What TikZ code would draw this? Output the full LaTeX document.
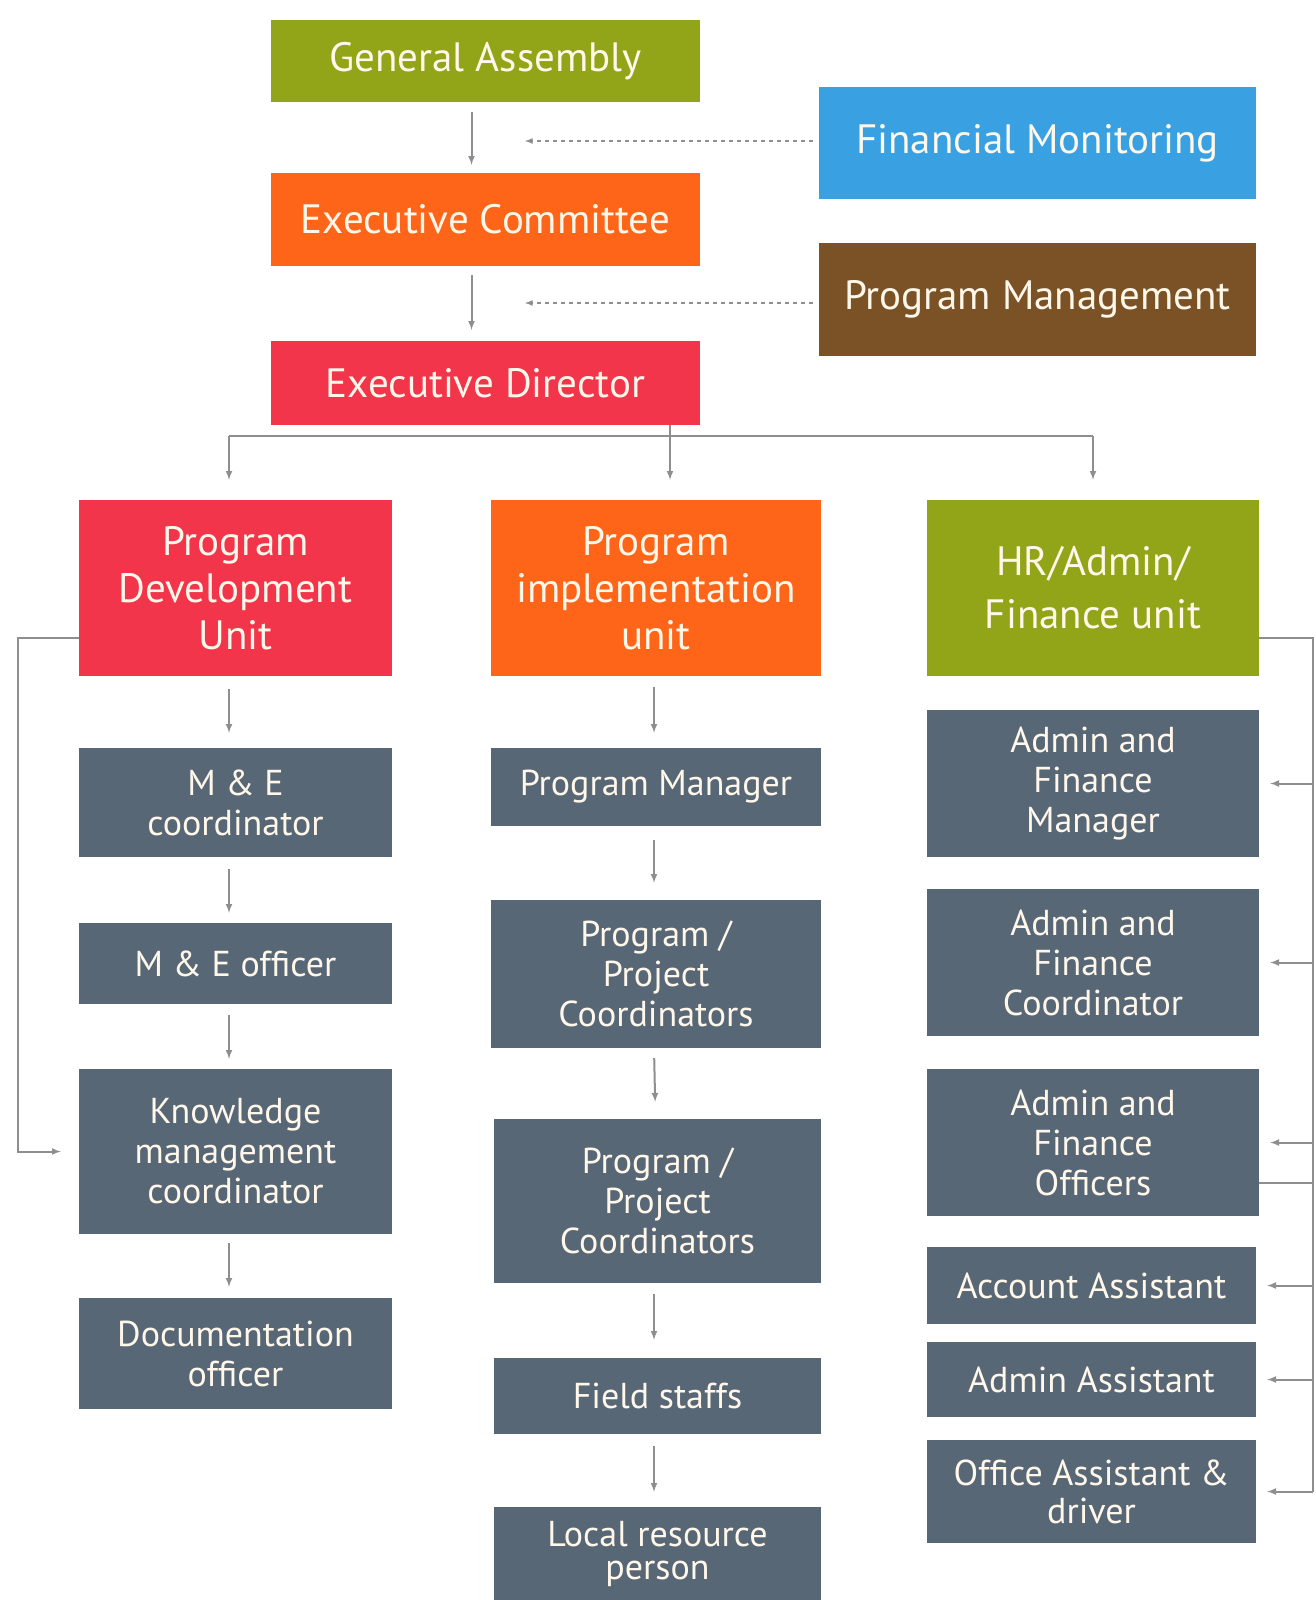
\documentclass[tikz,border=0pt]{standalone}
\usepackage{fontspec}
\setmainfont{PT Sans}
\usetikzlibrary{arrows,positioning}
\definecolor{cGreen}{HTML}{92A418}
\definecolor{cOrange}{HTML}{FF6519}
\definecolor{cRed}{HTML}{F2354B}
\definecolor{cBlue}{HTML}{39A1E2}
\definecolor{cBrown}{HTML}{7A5226}
\definecolor{cSlate}{HTML}{576776}
\definecolor{cText}{HTML}{FFF7EA}
\definecolor{cLine}{HTML}{8E8E8E}
\tikzset{
	unit/.style={rectangle, inner sep=0pt, text=cText, align=center,
		font=\fontsize{41}{47}\selectfont},
	staff/.style={unit, fill=cSlate, font=\fontsize{36}{40}\selectfont},
	link/.style={draw=cLine, line width=2pt},
	linkarr/.style={link, arrows={-latex}},
	dotarr/.style={draw=cLine, line width=1.6pt, dash pattern=on 4pt off 4pt, arrows={-latex}},
}

\begin{document}
\begin{tikzpicture}[x=1pt,y=-1pt]
			\useasboundingbox (0,0) rectangle (1315,1600);

			% Haut de l'organigramme
			\node[unit, fill=cGreen, minimum width=429pt, minimum height=82pt] (ga) at (485.5,61) {General Assembly};
			\node[unit, fill=cOrange, minimum width=429pt, minimum height=93pt] (ec) at (485.5,219.5) {Executive Committee};
			\node[unit, fill=cRed, minimum width=429pt, minimum height=84pt] (ed) at (485.5,383) {Executive Director};
			\node[unit, fill=cBlue, minimum width=437pt, minimum height=112pt] (fm) at (1037.5,143) {Financial Monitoring};
			\node[unit, fill=cBrown, minimum width=437pt, minimum height=113pt] (pm) at (1037.5,299.5) {Program Management};

			\draw[linkarr, shorten <=10pt, shorten >=8pt] ([xshift=-14pt]ga.south) -- ([xshift=-14pt]ec.north);
			\draw[linkarr, shorten <=9pt, shorten >=11pt] ([xshift=-14pt]ec.south) -- ([xshift=-14pt]ed.north);

			% Fleches pointillees
			\coordinate (fmtip) at (525,141);
			\coordinate (pmtip) at (525,303);
			\draw[dotarr, shorten <=6pt] (fm.west |- fmtip) -- (fmtip);
			\draw[dotarr, shorten <=6pt] (pm.west |- pmtip) -- (pmtip);

			% Unites
			\node[unit, fill=cRed, minimum width=313pt, minimum height=176pt] (pdu) at (235.5,588) {Program\\Development\\Unit};
			\node[unit, fill=cOrange, minimum width=330pt, minimum height=176pt] (piu) at (656,588) {Program\\implementation\\unit};
			\node[unit, fill=cGreen, minimum width=332pt, minimum height=176pt, font=\fontsize{41}{53}\selectfont] (hr) at (1093,588) {HR/Admin/\\Finance unit};

			% Bus sous le directeur
			\coordinate (bus) at (670,436);
			\draw[link] (bus |- ed.south) -- (bus);
			\draw[link] ([xshift=-6.5pt]bus -| pdu.north) -- (bus -| hr.north);
			\draw[linkarr, shorten >=20pt] ([xshift=-6.5pt]bus -| pdu.north) -- ([xshift=-6.5pt]pdu.north);
			\draw[linkarr, shorten >=20pt] (bus) -- (bus |- piu.north);
			\draw[linkarr, shorten >=20pt] (bus -| hr.north) -- (hr.north);

			% Colonne gauche
			\node[staff, minimum width=313pt, minimum height=109pt] (mec) at (235.5,802.5) {M \& E\\coordinator};
			\node[staff, minimum width=313pt, minimum height=81pt] (meo) at (235.5,963.5) {M \& E officer};
			\node[staff, minimum width=313pt, minimum height=165pt] (kmc) at (235.5,1151.5) {Knowledge\\management\\coordinator};
			\node[staff, minimum width=313pt, minimum height=111pt] (doc) at (235.5,1353.5) {Documentation\\officer};

			\draw[linkarr, shorten <=13pt, shorten >=15pt] ([xshift=-6.5pt]pdu.south) -- ([xshift=-6.5pt]mec.north);
			\draw[linkarr, shorten <=12pt, shorten >=10pt] ([xshift=-6.5pt]mec.south) -- ([xshift=-6.5pt]meo.north);
			\draw[linkarr, shorten <=11pt, shorten >=10pt] ([xshift=-6.5pt]meo.south) -- ([xshift=-6.5pt]kmc.north);
			\draw[linkarr, shorten <=9pt, shorten >=11pt] ([xshift=-6.5pt]kmc.south) -- ([xshift=-6.5pt]doc.north);

			% Retour a gauche
			\coordinate (lbus) at (18,638);
			\draw[linkarr, shorten >=18pt] (pdu.west |- lbus) -- (lbus) |- (kmc.west);

			% Colonne centrale
			\node[staff, minimum width=330pt, minimum height=78pt] (pmg) at (656,787) {Program Manager};
			\node[staff, minimum width=330pt, minimum height=148pt] (ppc) at (656,974) {Program /\\Project\\Coordinators};
			\node[staff, minimum width=327pt, minimum height=164pt] (ppcb) at (657.5,1201) {Program /\\Project\\Coordinators};
			\node[staff, minimum width=327pt, minimum height=76pt] (fst) at (657.5,1396) {Field staffs};
			\node[staff, minimum width=327pt, minimum height=93pt, font=\fontsize{36}{33}\selectfont] (lrp) at (657.5,1553.5) {Local resource\\person};

			\draw[linkarr, shorten <=11pt, shorten >=15pt] ([xshift=-2pt]piu.south) -- ([xshift=-2pt]pmg.north);
			\draw[linkarr, shorten <=14pt, shorten >=17pt] ([xshift=-2pt]pmg.south) -- ([xshift=-2pt]ppc.north);
			\draw[linkarr, shorten <=10pt, shorten >=17pt] ([xshift=-2pt]ppc.south) -- ([xshift=-2pt]ppcb.north);
			\draw[linkarr, shorten <=11pt, shorten >=18pt] ([xshift=-3.5pt]ppcb.south) -- ([xshift=-3.5pt]fst.north);
			\draw[linkarr, shorten <=12pt, shorten >=15pt] ([xshift=-3.5pt]fst.south) -- ([xshift=-3.5pt]lrp.north);

			% Colonne droite
			\node[staff, minimum width=332pt, minimum height=147pt] (afm) at (1093,783.5) {Admin and\\Finance\\Manager};
			\node[staff, minimum width=332pt, minimum height=147pt] (afc) at (1093,962.5) {Admin and\\Finance\\Coordinator};
			\node[staff, minimum width=332pt, minimum height=147pt] (afo) at (1093,1142.5) {Admin and\\Finance\\Officers};
			\node[staff, minimum width=329pt, minimum height=77pt] (acc) at (1091.5,1285.5) {Account Assistant};
			\node[staff, minimum width=329pt, minimum height=75pt] (ada) at (1091.5,1379.5) {Admin Assistant};
			\node[staff, minimum width=329pt, minimum height=103pt, font=\fontsize{36}{38}\selectfont] (oad) at (1091.5,1491.5) {Office Assistant \&\\driver};

			% Bus a droite
			\coordinate (rbus) at (1313,638);
			\draw[link] (hr.east |- rbus) -- (rbus) -- (rbus |- oad.east);
			\draw[link] ([yshift=-40.5pt]afo.east) -| (rbus);
			\foreach \nd in {afm,afc,afo,acc,ada,oad}
				\draw[linkarr, shorten >=11pt] (rbus |- \nd.east) -- (\nd.east);
\end{tikzpicture}
\end{document}
